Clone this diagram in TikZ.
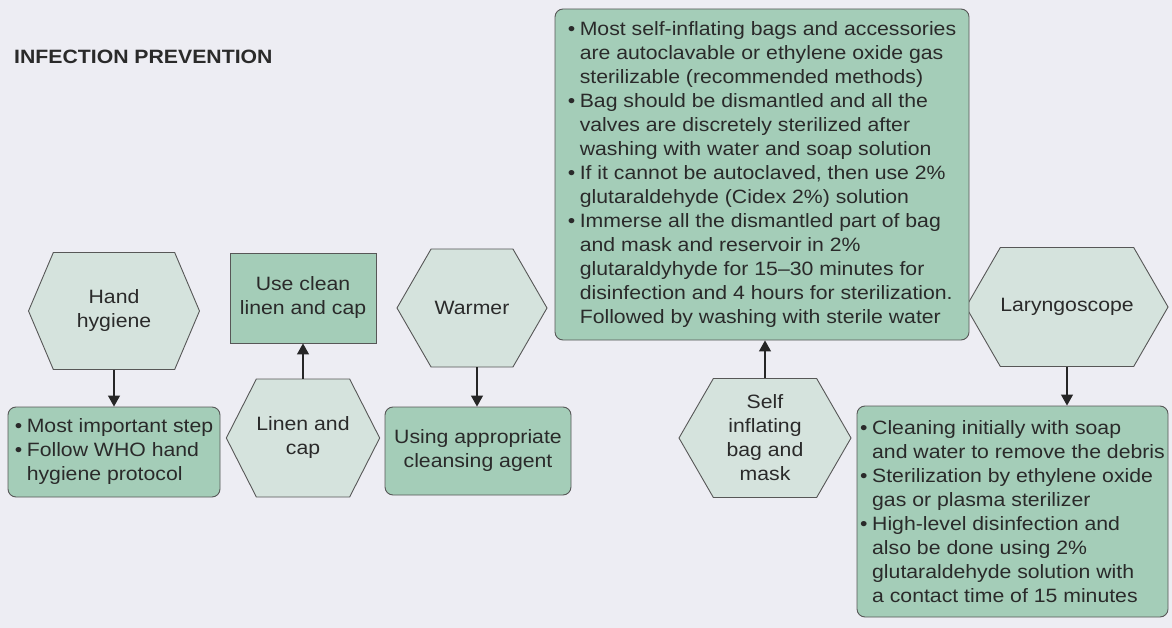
\documentclass[tikz,border=0pt]{standalone}
\usepackage{fontspec}
\setmainfont{Liberation Sans}[FakeStretch=1.1]
\usepackage{tikz}
\usetikzlibrary{shapes,arrows.meta,positioning}

\definecolor{bgcol}{HTML}{EDEDF3}
\definecolor{hexcol}{HTML}{D5E3DD}
\definecolor{boxcol}{HTML}{A4CDB8}
\definecolor{edgecol}{HTML}{575757}
\definecolor{txtcol}{HTML}{2A2A2A}

\newlength{\bind}
\setlength{\bind}{12pt}
\newcommand{\bul}{\makebox[\bind][l]{\textbullet}}
\newcommand{\ind}{\hspace*{\bind}}

\tikzset{
	hexa/.style={signal, signal to=east and west, signal pointer angle=120,
		draw=edgecol, fill=hexcol, line width=0.9pt, align=center, inner sep=0pt},
	roundbox/.style={rectangle, rounded corners=8pt, draw=edgecol, fill=boxcol,
		line width=0.9pt, align=left, inner sep=2pt},
	flatbox/.style={rectangle, draw=edgecol, fill=boxcol, line width=0.9pt,
		align=center, inner sep=2pt},
	link/.style={->, draw=black!85, line width=1.2pt}
}

\begin{document}
\begin{tikzpicture}[x=1pt, y=-1pt, >={Triangle[length=11pt,width=12pt]},
	every node/.style={text=txtcol, font=\fontsize{19.3}{24}\selectfont}]
				\fill[bgcol] (0,0) rectangle (1172,628);
				\useasboundingbox (0,0) rectangle (1172,628);

				\node[anchor=west, inner sep=0pt, font=\fontsize{19.3}{24}\selectfont\bfseries] (title) at (14,57) {INFECTION PREVENTION};

				% hexagons
				\node[hexa, minimum width=171pt, minimum height=117pt, signal pointer angle=134] (hand) at (114,311) {Hand\\hygiene};
				\node[hexa, minimum width=149pt, minimum height=118pt, signal pointer angle=126] (linen) at (303,438) {Linen and\\cap};
				\node[hexa, minimum width=150pt, minimum height=118pt] (warm) at (472,308) {Warmer};
				\node[hexa, minimum width=172pt, minimum height=119pt] (bag) at (765,438) {Self\\inflating\\bag and\\mask};
				\node[hexa, minimum width=172pt, minimum height=119pt] (laryn) at (1067,307) {Laryngoscope};

				% boxes
				\node[roundbox, minimum width=212pt, minimum height=90pt] (handbox) at (114,452)
					{\bul Most important step\\ \bul Follow WHO hand\\ \ind hygiene protocol};
				\node[flatbox, minimum width=146pt, minimum height=90pt] (linenbox) at (303,298)
					{Use clean\\linen and cap};
				\node[roundbox, align=center, minimum width=186pt, minimum height=88pt] (warmbox) at (478,451)
					{Using appropriate\\cleansing agent};
				\node[roundbox, minimum width=414pt, minimum height=331pt] (bagbox) at (762,174.5)
					{\bul Most self-inflating bags and accessories\\
					\ind are autoclavable or ethylene oxide gas\\
					\ind sterilizable (recommended methods)\\
					\bul Bag should be dismantled and all the\\
					\ind valves are discretely sterilized after\\
					\ind washing with water and soap solution\\
					\bul If it cannot be autoclaved, then use 2\%\\
					\ind glutaraldehyde (Cidex 2\%) solution\\
					\bul Immerse all the dismantled part of bag\\
					\ind and mask and reservoir in 2\%\\
					\ind glutaraldyhyde for 15--30 minutes for\\
					\ind disinfection and 4 hours for sterilization.\\
					\ind Followed by washing with sterile water};
				\node[roundbox, minimum width=311pt, minimum height=211pt] (larynbox) at (1012.5,511.5)
					{\bul Cleaning initially with soap\\
					\ind and water to remove the debris\\
					\bul Sterilization by ethylene oxide\\
					\ind gas or plasma sterilizer\\
					\bul High-level disinfection and\\
					\ind also be done using 2\%\\
					\ind glutaraldehyde solution with\\
					\ind a contact time of 15 minutes};

				% arrows
				\draw[link] (hand.south) -- (hand.south |- handbox.north);
				\draw[link] (linen.north) -- (linen.north |- linenbox.south);
				\draw[link] ([xshift=5pt]warm.south) -- ([xshift=5pt]warm.south |- warmbox.north);
				\draw[link] (bag.north) -- (bag.north |- bagbox.south);
				\draw[link] (laryn.south) -- (laryn.south |- larynbox.north);
\end{tikzpicture}
\end{document}
